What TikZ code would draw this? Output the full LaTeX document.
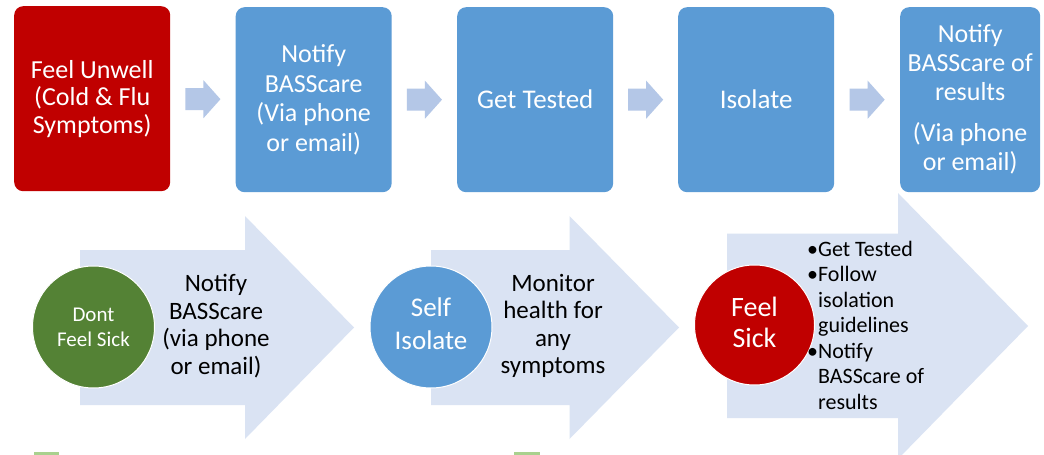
\documentclass[tikz,border=0pt]{standalone}
\usepackage{fontspec}
\setmainfont{Carlito}
\usetikzlibrary{calc}
\definecolor{sickred}{HTML}{C00000}
\definecolor{stepblue}{HTML}{5B9BD5}
\definecolor{okgreen}{HTML}{548235}
\definecolor{pale}{HTML}{DAE3F3}
\definecolor{gapblue}{HTML}{B4C7E7}
\definecolor{markgreen}{HTML}{A9D18E}
\tikzset{
  box/.style={rounded corners=9pt, minimum width=156pt, minimum height=185pt, inner sep=0pt,
    text=white, align=center, font=\fontsize{26}{29.5}\selectfont},
  dot/.style={circle, minimum size=122pt, inner sep=0pt, draw=white, line width=1pt},
  dotlabel/.style={text=white, align=center},
  note/.style={align=center, font=\fontsize{25}{27.6}\selectfont},
  gaparrow/.style={fill=gapblue}
}
\begin{document}
\begin{tikzpicture}[x=1pt,y=-1pt]
\path[use as bounding box, fill=white] (0,0) rectangle (1044,455);
%top row
\node[box, fill=sickred, anchor=north west, font=\fontsize{26}{27.5}\selectfont] (unwell) at (14,6) {Feel Unwell\\(Cold \& Flu\\Symptoms)};
\node[box, fill=stepblue, anchor=north west] (notify) at (235.5,7) {Notify\\BASScare\\(Via phone\\or email)};
\node[box, fill=stepblue, anchor=north west, font=\fontsize{27}{30}\selectfont] (tested) at (457,7) {Get Tested};
\node[box, fill=stepblue, anchor=north west, font=\fontsize{27}{30}\selectfont] (isolate) at (678,7) {Isolate};
\node[box, fill=stepblue, anchor=north west, minimum width=140pt, font=\fontsize{26}{29}\selectfont] (report) at (900,7) {Notify\\BASScare of\\results\\[12pt](Via phone\\or email)};
%small arrows between the boxes
\foreach \a/\b in {unwell/notify,notify/tested,tested/isolate,isolate/report}
  \fill[gaparrow] ($(\a.east)!0.5!(\b.west)$) ++(-17.5,-11) -- ++(18,0) -- ++(0,-8) -- ++(17,19)
    -- ++(-17,19) -- ++(0,-8) -- ++(-18,0) -- cycle;

%big arrows
\fill[pale] (80,250) -- (245,250) -- (245,216) -- (354,327.5) -- (245,439) -- (245,405) -- (80,405) -- cycle;
\fill[pale] (431,250) -- (569.5,250) -- (569.5,216) -- (679,327.5) -- (569.5,439) -- (569.5,405) -- (431,405) -- cycle;
\fill[pale] (727,233.5) -- (898,233.5) -- (898,193) -- (1028,326) -- (898,459) -- (898,418) -- (727,418) -- cycle;

%circles
\node[dot, fill=okgreen] (keep) at (93.5,327) {};
\node[dotlabel, font=\fontsize{21}{25}\selectfont] (keeplabel) at (keep) {Dont\\Feel Sick};
\node[dot, fill=stepblue] (selfiso) at (431,327) {};
\node[dotlabel, font=\fontsize{27}{33}\selectfont] (selfisolabel) at ([yshift=3pt]selfiso.center) {Self\\Isolate};
\node[dot, fill=sickred, minimum size=120pt] (sick) at (754.5,325) {};
\node[dotlabel, font=\fontsize{28}{31}\selectfont] (sicklabel) at ([yshift=3pt]sick.center) {Feel\\Sick};

%texts on the arrows
\node[note] (keepnote) at (216,326) {Notify\\BASScare\\(via phone\\or email)};
\node[note] (watchnote) at (553,326) {Monitor\\health for\\any\\symptoms};
\node[align=left, anchor=west, inner sep=0pt, font=\fontsize{22}{25.5}\selectfont] (sicklist) at (807,325)
  {\textbullet Get Tested\\\textbullet Follow\\\phantom{\textbullet}isolation\\\phantom{\textbullet}guidelines\\\textbullet Notify\\\phantom{\textbullet}BASScare of\\\phantom{\textbullet}results};

%marks at the bottom
\fill[markgreen] (34,452) rectangle (59,455);
\fill[markgreen] (514,452) rectangle (540,455);
\end{tikzpicture}
\end{document}
